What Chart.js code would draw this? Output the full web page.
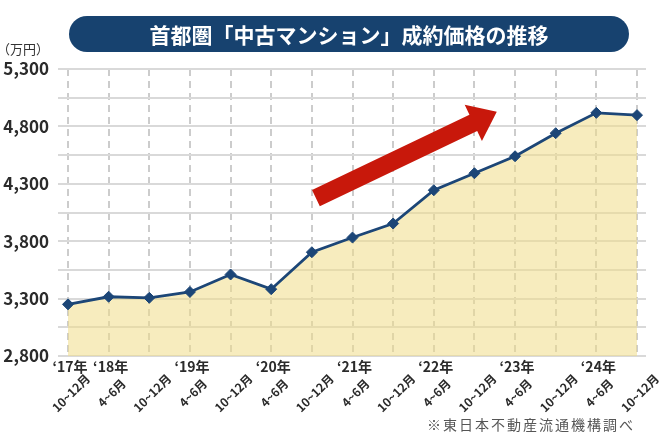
<!DOCTYPE html>
<html><head><meta charset="utf-8">
<script src="https://cdn.jsdelivr.net/npm/chart.js@4"></script>
<style>
html,body{margin:0;padding:0;background:#fff;}
#wrap{position:relative;width:670px;height:436px;overflow:hidden;font-family:"Noto Sans CJK JP","Noto Sans",sans-serif;}
#c{position:absolute;left:0;top:0;}
#title{position:absolute;left:69px;top:16px;width:560px;height:36px;border-radius:18px;background:#17426f;color:#fff;font-weight:700;font-size:21px;line-height:36px;text-align:center;white-space:nowrap;}
#unit{position:absolute;left:-3px;top:40px;font-size:13px;color:#333;line-height:18px;white-space:nowrap;}
#src{position:absolute;left:427px;top:414px;font-size:14px;letter-spacing:2px;color:#555;line-height:20px;white-space:nowrap;}
</style></head>
<body>
<div id="wrap">
<canvas id="c" width="670" height="436"></canvas>
<div id="title">首都圏「中古マンション」成約価格の推移</div>
<div id="unit">（万円）</div>
<div id="src">※東日本不動産流通機構調べ</div>
</div>
<script>
// ---- data ----
const quarterLabels = ["10~12月","4~6月","10~12月","4~6月","10~12月","4~6月","10~12月","4~6月","10~12月","4~6月","10~12月","4~6月","10~12月","4~6月","10~12月"];
const yearLabels = ["‘17年","‘18年","","‘19年","","‘20年","","‘21年","","‘22年","","‘23年","","‘24年",""];
const prices = [3250,3316,3307,3358,3510,3382,3704,3832,3954,4244,4392,4540,4741,4918,4898];
const yMin = 2800, yMax = 5300, yGridStep = 250, yLabelStep = 500;
// trend arrow (category index, value)
const arrowFrom = [6.1, 4176];
const arrowTo = [10.55, 4928];

const FONT = '"Noto Sans CJK JP","Noto Sans",sans-serif';
const gridColor = '#d9d9d9';

const labelPlugin = {
  id: 'labels',
  afterDatasetsDraw(chart) {
    const ctx = chart.ctx, xs = chart.scales.x, ys = chart.scales.y;
    const x0 = xs.getPixelForValue(arrowFrom[0]), y0 = ys.getPixelForValue(arrowFrom[1]);
    const x1 = xs.getPixelForValue(arrowTo[0]), y1 = ys.getPixelForValue(arrowTo[1]);
    const dx = x1 - x0, dy = y1 - y0, L = Math.hypot(dx, dy);
    const ux = dx / L, uy = dy / L, nx = -uy, ny = ux;
    const sw = 9, hw = 20, hl = 26;
    const bx = x1 - ux * hl, by = y1 - uy * hl;
    ctx.save();
    ctx.fillStyle = '#c8180b';
    ctx.beginPath();
    ctx.moveTo(x0 + nx * sw, y0 + ny * sw);
    ctx.lineTo(bx + nx * sw, by + ny * sw);
    ctx.lineTo(bx + nx * hw, by + ny * hw);
    ctx.lineTo(x1, y1);
    ctx.lineTo(bx - nx * hw, by - ny * hw);
    ctx.lineTo(bx - nx * sw, by - ny * sw);
    ctx.lineTo(x0 - nx * sw, y0 - ny * sw);
    ctx.closePath();
    ctx.fill();
    ctx.restore();
  },
  afterDraw(chart) {
    const ctx = chart.ctx, xs = chart.scales.x;
    const base = chart.chartArea.bottom;
    ctx.save();
    ctx.fillStyle = '#2b2b2b';
    ctx.textBaseline = 'middle';
    ctx.textAlign = 'center';
    ctx.font = '700 14px ' + FONT;
    yearLabels.forEach((t, i) => {
      if (!t) return;
      ctx.fillText(t, xs.getPixelForValue(i) + 2, base + 11);
    });
    ctx.font = '700 12px ' + FONT;
    quarterLabels.forEach((t, i) => {
      const px = xs.getPixelForValue(i) + 3;
      ctx.save();
      ctx.translate(px, base + 37);
      ctx.rotate(-Math.PI / 4);
      ctx.fillText(t, 0, 0);
      ctx.restore();
    });
    ctx.restore();
  }
};

new Chart(document.getElementById('c'), {
  type: 'line',
  data: {
    labels: quarterLabels,
    datasets: [{
      data: prices,
      borderColor: '#1c4677',
      borderWidth: 2.8,
      backgroundColor: 'rgba(240,220,137,0.55)',
      fill: 'start',
      tension: 0,
      pointStyle: 'rectRot',
      pointRadius: 5.5,
      pointBackgroundColor: '#1c4677',
      pointBorderColor: '#1c4677',
      pointBorderWidth: 1
    }]
  },
  options: {
    responsive: false,
    animation: false,
    events: [],
    layout: { padding: { top: 69, right: 24, left: 0, bottom: 0 } },
    plugins: { legend: { display: false }, title: { display: false }, tooltip: { enabled: false } },
    scales: {
      x: {
        type: 'category',
        offset: false,
        border: { display: false, dash: [7, 5] },
        grid: { color: '#cccccc', lineWidth: 2, drawTicks: false },
        ticks: { display: false },
        afterFit(s) { s.height = 80; }
      },
      y: {
        position: 'left',
        min: yMin, max: yMax,
        border: { display: false },
        grid: { color: gridColor, lineWidth: 2, drawTicks: true, tickLength: 10, tickColor: gridColor },
        ticks: {
          stepSize: yGridStep,
          autoSkip: false,
          padding: 9,
          color: '#2b2b2b',
          font: { family: FONT, size: 17, weight: '700' },
          callback: v => ((v - yMin) % yLabelStep === 0 ? v.toLocaleString('en-US') : '')
        },
        afterFit(s) { s.width = 68; }
      },
      y2: {
        position: 'right',
        min: yMin, max: yMax,
        border: { display: false },
        grid: { color: gridColor, lineWidth: 2, drawOnChartArea: false, drawTicks: true, tickLength: 9, tickColor: gridColor },
        ticks: { display: false, stepSize: yGridStep },
        afterFit(s) { s.width = 9; }
      }
    }
  },
  plugins: [labelPlugin]
});
</script>
</body></html>
